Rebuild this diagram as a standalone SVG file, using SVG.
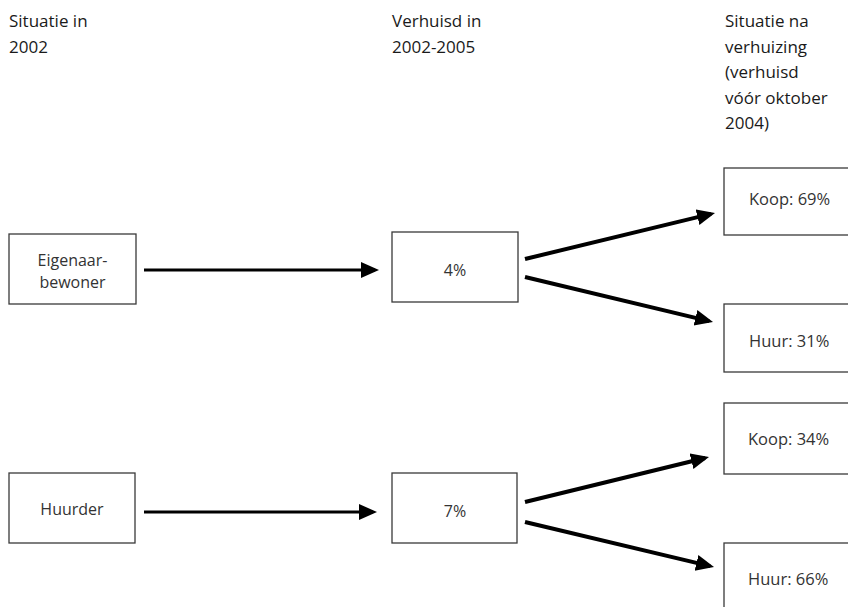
<svg xmlns="http://www.w3.org/2000/svg" width="848" height="607" viewBox="0 0 848 607">
  <style>
    .box { fill: #ffffff; stroke: #3a3a3a; stroke-width: 1.3; }
    .head { font-family: "Open Sans", "Noto Sans", sans-serif; font-size: 17px; fill: #1a1a1a; }
    .lbl { font-family: "Open Sans", "Noto Sans", sans-serif; font-size: 16px; fill: #333333; text-anchor: middle; }
    .lbl-l { font-family: "Open Sans", "Noto Sans", sans-serif; font-size: 16.5px; fill: #333333; }
    .conn { fill: none; stroke: #000000; stroke-width: 3; }
    .conn-d { fill: none; stroke: #000000; stroke-width: 4; }
  </style>
  <defs>
    <marker id="arrow" markerUnits="userSpaceOnUse" markerWidth="19" markerHeight="17" refX="14" refY="8" orient="auto">
      <path d="M0,0 L18,8 L0,16 Z" fill="#000000"/>
    </marker>
  </defs>

  <rect x="0" y="0" width="848" height="607" fill="#ffffff"/>

  <!-- column headings -->
  <g id="heading-2002">
    <text class="head" x="9" y="27">Situatie in</text>
    <text class="head" x="9" y="53">2002</text>
  </g>
  <g id="heading-verhuisd">
    <text class="head" x="392" y="27">Verhuisd in</text>
    <text class="head" x="392" y="53">2002-2005</text>
  </g>
  <g id="heading-na">
    <text class="head" x="725" y="27">Situatie na</text>
    <text class="head" x="725" y="52.5">verhuizing</text>
    <text class="head" x="725" y="78">(verhuisd</text>
    <text class="head" x="725" y="103.5">vóór oktober</text>
    <text class="head" x="725" y="129">2004)</text>
  </g>

  <!-- nodes -->
  <g id="eigenaar">
    <rect class="box" x="9" y="234" width="127" height="70"/>
    <text class="lbl" x="72.5" y="266">Eigenaar-</text>
    <text class="lbl" x="72.5" y="288">bewoner</text>
  </g>
  <g id="verhuisd-eigenaar">
    <rect class="box" x="392" y="232" width="126" height="70"/>
    <text class="lbl" x="455" y="276">4%</text>
  </g>
  <g id="koop-69">
    <rect class="box" x="724" y="168" width="140" height="67"/>
    <text class="lbl-l" x="749" y="205">Koop: 69%</text>
  </g>
  <g id="huur-31">
    <rect class="box" x="724" y="304" width="140" height="68"/>
    <text class="lbl-l" x="749" y="347">Huur: 31%</text>
  </g>

  <g id="huurder">
    <rect class="box" x="9" y="473" width="126" height="70"/>
    <text class="lbl" x="72" y="515">Huurder</text>
  </g>
  <g id="verhuisd-huurder">
    <rect class="box" x="392" y="473" width="125" height="70"/>
    <text class="lbl" x="455" y="517">7%</text>
  </g>
  <g id="koop-34">
    <rect class="box" x="724" y="403" width="140" height="71"/>
    <text class="lbl-l" x="748" y="445">Koop: 34%</text>
  </g>
  <g id="huur-66">
    <rect class="box" x="724" y="543" width="140" height="80"/>
    <text class="lbl-l" x="748" y="585">Huur: 66%</text>
  </g>

  <!-- connectors -->
  <g id="connectors">
    <line class="conn" x1="144" y1="270" x2="375" y2="270" marker-end="url(#arrow)"/>
    <line class="conn" x1="144" y1="512" x2="373" y2="512" marker-end="url(#arrow)"/>
    <line class="conn-d" x1="525" y1="259" x2="711.1" y2="213.9" marker-end="url(#arrow)"/>
    <line class="conn-d" x1="525" y1="277" x2="709.1" y2="321.1" marker-end="url(#arrow)"/>
    <line class="conn-d" x1="525" y1="502" x2="705.1" y2="457.95" marker-end="url(#arrow)"/>
    <line class="conn-d" x1="525" y1="522" x2="710.1" y2="566.1" marker-end="url(#arrow)"/>
  </g>
</svg>
